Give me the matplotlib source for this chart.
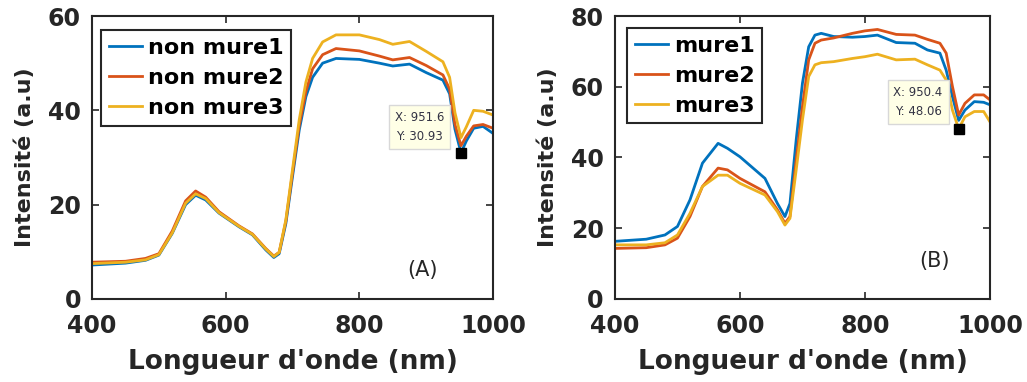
import numpy as np
import matplotlib.pyplot as plt
from matplotlib.patches import Rectangle

# Panel A : non mature samples
wl_a = [400, 450, 480, 500, 520, 540, 555, 570, 590, 620, 640, 660, 672, 680, 690,
        700, 710, 720, 730, 745, 765, 800, 830, 850, 875, 900, 925, 935, 943, 952,
        960, 971, 985, 1000]
non_mure1 = [7.2, 7.6, 8.2, 9.3, 13.9, 20.0, 22.0, 21.0, 18.2, 15.3, 13.6, 10.4, 8.8, 9.6, 16.0,
             26.0, 35.8, 42.9, 47.0, 50.0, 51.0, 50.8, 50.0, 49.4, 49.8, 48.0, 46.4, 43.5, 36.0, 31.0,
             33.5, 36.2, 36.6, 35.1]
non_mure2 = [7.8, 8.0, 8.6, 9.6, 14.4, 20.8, 22.9, 21.6, 18.5, 15.5, 13.8, 10.7, 9.1, 9.9, 16.5,
             26.8, 36.8, 44.0, 48.8, 51.8, 53.1, 52.6, 51.5, 50.7, 51.2, 49.5, 47.5, 44.5, 37.0, 32.5,
             34.5, 36.7, 37.0, 36.2]
non_mure3 = [7.5, 7.8, 8.3, 9.4, 14.0, 20.3, 22.3, 21.3, 18.3, 15.4, 13.7, 10.6, 9.0, 9.9, 16.8,
             27.5, 38.0, 46.0, 51.0, 54.5, 56.0, 56.0, 55.0, 54.0, 54.6, 52.5, 50.3, 47.0, 39.5, 34.2,
             36.5, 40.0, 39.8, 39.0]

# Panel B : mature samples
wl_b = [400, 450, 480, 500, 520, 540, 565, 580, 600, 640, 660, 672, 680, 690, 700,
        710, 720, 730, 750, 780, 800, 820, 850, 880, 900, 920, 930, 940, 950, 960,
        975, 990, 1000]
mure1 = [16.3, 16.9, 18.1, 20.5, 28.0, 38.4, 44.0, 42.6, 40.2, 34.1, 27.0, 23.3, 27.0, 45.0, 61.0,
         71.3, 74.6, 75.1, 74.2, 74.0, 74.2, 74.6, 72.5, 72.3, 70.4, 69.5, 64.7, 57.2, 50.5, 53.4,
         55.8, 55.6, 54.9]
mure2 = [14.3, 14.5, 15.3, 17.2, 23.3, 31.8, 37.0, 36.5, 34.1, 30.3, 25.2, 21.4, 23.3, 39.3, 54.4,
         67.6, 72.3, 73.2, 73.8, 75.1, 75.8, 76.2, 74.8, 74.6, 73.4, 72.3, 69.5, 60.1, 52.0, 55.3,
         57.7, 57.7, 56.3]
mure3 = [15.3, 15.3, 15.9, 18.1, 24.2, 31.8, 35.0, 35.0, 32.7, 29.4, 24.7, 20.9, 22.8, 36.5, 50.6,
         62.9, 66.2, 66.8, 67.1, 68.0, 68.5, 69.2, 67.6, 67.8, 66.2, 64.7, 61.9, 53.4, 48.1, 51.5,
         53.0, 53.0, 50.1]

tip_a = (951.6, 30.93)
tip_b = (950.4, 48.06)

colors = ['#0072BD', '#D95319', '#EDB120']
dark = '#262626'

fig = plt.figure(figsize=(10.27, 3.82), dpi=100)
ax1 = fig.add_axes([0.0896, 0.2173, 0.3905, 0.7408])
ax2 = fig.add_axes([0.5988, 0.2173, 0.3651, 0.7408])


def style_axes(ax, ymax, yticks, label_x):
    ax.set_xlim(400, 1000)
    ax.set_ylim(0, ymax)
    ax.set_xticks([400, 600, 800, 1000])
    ax.set_yticks(yticks)
    ax.tick_params(direction='in', top=True, right=True, length=5, width=1.2,
                   colors=dark, labelsize=17, labelcolor=dark)
    ax.tick_params(axis='x', pad=11)
    ax.tick_params(axis='y', pad=8)
    for lab in ax.get_xticklabels() + ax.get_yticklabels():
        lab.set_fontweight('bold')
    for sp in ax.spines.values():
        sp.set_color(dark)
        sp.set_linewidth(1.5)
    ax.set_xlabel("Longueur d'onde (nm)", fontsize=19, fontweight='bold', color=dark)
    ax.set_ylabel("Intensité (a.u)", fontsize=16, fontweight='bold', color=dark)
    ax.xaxis.set_label_coords(0.5, -0.175)
    ax.yaxis.set_label_coords(label_x, 0.5)


def add_legend(ax, x0, y0):
    leg = ax.legend(loc='upper left', bbox_to_anchor=(x0, y0), borderaxespad=0,
                    fancybox=False, framealpha=1, edgecolor=dark,
                    prop={'size': 16, 'weight': 'bold'}, handlelength=1.5,
                    handletextpad=0.25, labelspacing=0.45, borderpad=0.35)
    leg.get_frame().set_linewidth(1.5)


def add_tip(ax, tip, bx, by):
    ax.plot(tip[0], tip[1], 's', color='black', ms=7, zorder=5)
    ax.text(bx, by, "X: %.1f\nY: %.2f" % tip, fontsize=8.5, color='#333344',
            ha='center', va='center', linespacing=1.6, zorder=6,
            bbox=dict(boxstyle='square,pad=0.5', fc='#FFFFE6', ec='#D8D8D8', lw=1))


# Panel A
for y, c, lab in zip([non_mure1, non_mure2, non_mure3], colors,
                     ['non mure1', 'non mure2', 'non mure3']):
    ax1.plot(wl_a, y, color=c, lw=2, label=lab)
style_axes(ax1, 60, [0, 20, 40, 60], -0.142)
add_legend(ax1, 0.022, 0.95)
add_tip(ax1, tip_a, 890, 36.4)
ta = ax1.text(895, 6.2, '(A)', fontsize=15, color=dark, ha='center', va='center')
clip = Rectangle((400, 4.7), 600, 60, transform=ax1.transData, visible=False)
ax1.add_patch(clip)
ta.set_clip_path(clip)

# Panel B
for y, c, lab in zip([mure1, mure2, mure3], colors, ['mure1', 'mure2', 'mure3']):
    ax2.plot(wl_b, y, color=c, lw=2, label=lab)
style_axes(ax2, 80, [0, 20, 40, 60, 80], -0.152)
add_legend(ax2, 0.032, 0.958)
add_tip(ax2, tip_b, 885, 55.7)
ax2.text(912, 10.7, '(B)', fontsize=15, color=dark, ha='center', va='center')

fig.savefig('out.png', dpi=100)
